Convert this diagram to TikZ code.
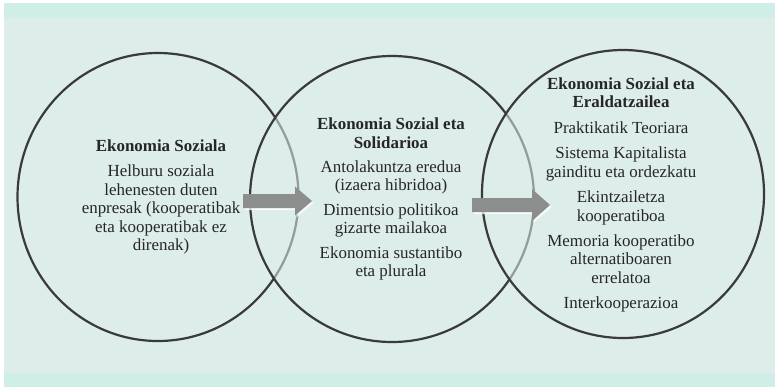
\documentclass[tikz,border=0pt]{standalone}
\usepackage{fontspec}
\setmainfont{Liberation Serif}
\usetikzlibrary{shapes.geometric}

\definecolor{bgmain}{RGB}{220,237,234}
\definecolor{bgband}{RGB}{207,238,232}
\definecolor{ringline}{RGB}{58,58,58}
\definecolor{arrowgray}{RGB}{140,141,141}

% block arrow: tail x, head start x, tip x, mid y, half body, half head
\newcommand{\fatarrow}[6]{%
  \fill[white,opacity=.75,xshift=1.5bp,yshift=-2bp]
    (#1,#4-#5) -- (#2,#4-#5) -- (#2,#4-#6) -- (#3,#4) -- (#2,#4+#6)
    -- (#2,#4+#5) -- (#1,#4+#5) -- cycle;
  \fill[arrowgray]
    (#1,#4-#5) -- (#2,#4-#5) -- (#2,#4-#6) -- (#3,#4) -- (#2,#4+#6)
    -- (#2,#4+#5) -- (#1,#4+#5) -- cycle;
}

\begin{document}
\begin{tikzpicture}[x=1bp,y=-1bp]
      \tikzstyle{ring}=[ellipse,draw=ringline,line width=2.2bp,fill=bgmain,
        fill opacity=.55,inner sep=0pt]
      \tikzstyle{txt}=[align=center,inner sep=0pt,text=black!85,
        font=\fontsize{17}{18.5}\selectfont]

      \useasboundingbox (0,0) rectangle (775,387);
      \fill[white] (0,0) rectangle (775,387);
      \fill[bgmain] (4,3) rectangle (775,387);
      \fill[bgband] (4,3) rectangle (775,18);
      \fill[bgband] (4,373) rectangle (775,387);

      % first circle
      \node[ring,minimum width=281bp,minimum height=288bp](c1) at (158,197){};
      \node[txt](t1) at (161,197){\textbf{Ekonomia Soziala}\\[7bp]
        Helburu soziala\\ lehenesten duten\\ enpresak (kooperatibak\\
        eta kooperatibak ez\\ direnak)};

      % second circle
      \node[ring,minimum width=284bp,minimum height=286bp](c2) at (392,199){};
      \node[txt](t2) at (391,199){\textbf{Ekonomia Sozial eta}\\
        \textbf{Solidarioa}\\[6bp]
        Antolakuntza eredua\\ (izaera hibridoa)\\[6bp]
        Dimentsio politikoa\\ gizarte mailakoa\\[6bp]
        Ekonomia sustantibo\\ eta plurala};

      % third circle
      \node[ring,minimum width=282bp,minimum height=288bp](c3) at (623,194){};
      \node[txt](t3) at (621,195){\textbf{Ekonomia Sozial eta}\\
        \textbf{Eraldatzailea}\\[7bp]
        Praktikatik Teoriara\\[7bp]
        Sistema Kapitalista\\ gainditu eta ordezkatu\\[7bp]
        Ekintzailetza\\ kooperatiboa\\[7bp]
        Memoria kooperatibo\\ alternatiboaren\\ errelatoa\\[7bp]
        Interkooperazioa};

      % arrows between the circles
      \fatarrow{243}{295}{312}{201}{7}{14.5}
      \fatarrow{472}{532}{550}{205}{7}{16}
    \end{tikzpicture}
\end{document}
